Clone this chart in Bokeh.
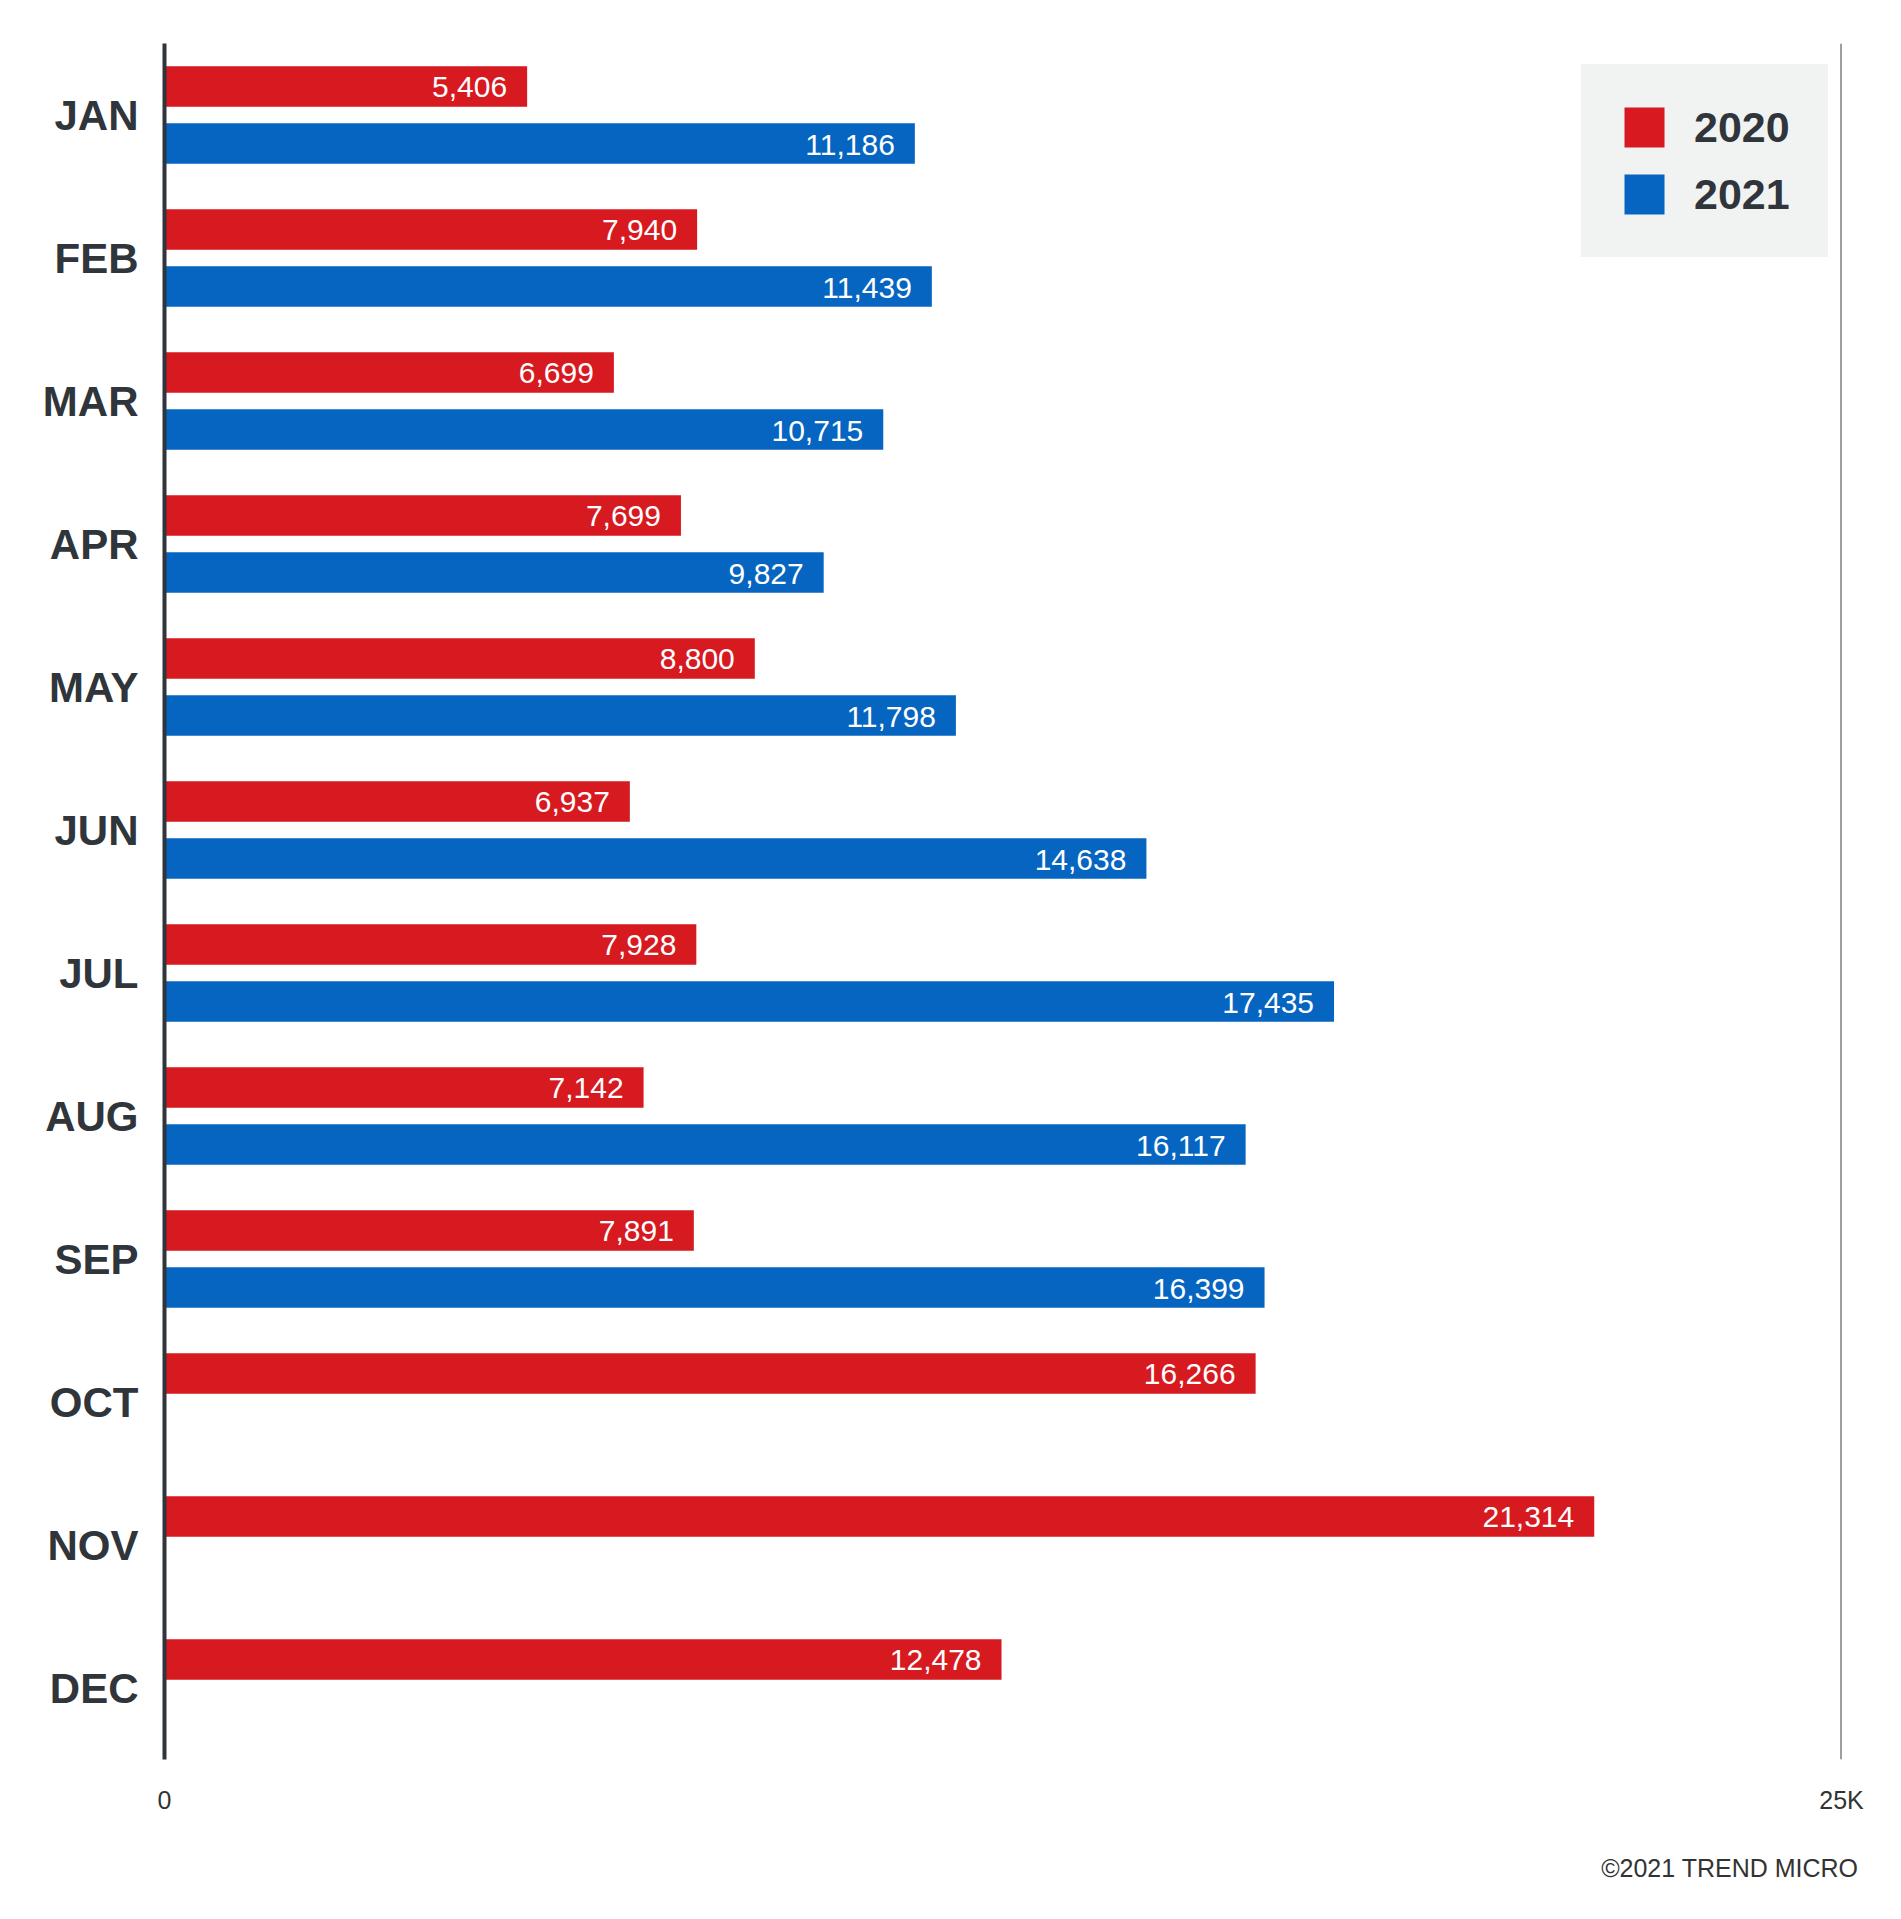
from bokeh.plotting import figure
from bokeh.models import (ColumnDataSource, FactorRange, Range1d, FixedTicker, Span,
                          Legend, LegendItem, Title)
from bokeh.transform import dodge
from bokeh.core.properties import value
from bokeh.embed import file_html
from bokeh.resources import INLINE

# ---- data ----
months = ["JAN", "FEB", "MAR", "APR", "MAY", "JUN", "JUL", "AUG", "SEP", "OCT", "NOV", "DEC"]
values_2020 = [5406, 7940, 6699, 7699, 8800, 6937, 7928, 7142, 7891, 16266, 21314, 12478]
months_2021 = ["JAN", "FEB", "MAR", "APR", "MAY", "JUN", "JUL", "AUG", "SEP"]
values_2021 = [11186, 11439, 10715, 9827, 11798, 14638, 17435, 16117, 16399]
x_ticks = [0, 25000]
x_tick_labels = {0: "0", 25000: "25K"}
series_names = ["2020", "2021"]
credit = "\u00a92021 TREND MICRO"

RED = "#d71920"
BLUE = "#0665c1"
DARK = "#2f353a"
LEG_BG = "#f1f2f2"
FONT = "Liberation Sans"

src20 = ColumnDataSource(dict(month=months, v=values_2020,
                              lbl=[f"{v:,}" for v in values_2020]))
src21 = ColumnDataSource(dict(month=months_2021, v=values_2021,
                              lbl=[f"{v:,}" for v in values_2021]))

p = figure(y_range=FactorRange(factors=list(reversed(months))),
           x_range=Range1d(0, 25000),
           width=1885, height=1919,
           output_backend="svg", toolbar_location=None,
           min_border_left=164, min_border_top=43,
           min_border_right=44, min_border_bottom=160)
p.outline_line_color = None
p.xgrid.grid_line_color = None
p.ygrid.grid_line_color = None
p.background_fill_color = "white"
p.border_fill_color = "white"

OFF = 0.20
BH = 0.283
r20 = p.hbar(y=dodge("month", OFF, range=p.y_range), left=0, right="v", height=BH,
             source=src20, fill_color=RED, line_color=None)
r21 = p.hbar(y=dodge("month", -OFF, range=p.y_range), left=0, right="v", height=BH,
             source=src21, fill_color=BLUE, line_color=None)

for src, off in ((src20, OFF), (src21, -OFF)):
    p.text(x="v", y=dodge("month", off, range=p.y_range), text="lbl", source=src,
           text_align="right", text_baseline="middle", x_offset=-20, y_offset=1,
           text_color="white", text_font=value(FONT), text_font_size="30px")

# y axis
ya = p.yaxis[0]
ya.axis_line_width = 4
ya.axis_line_color = DARK
ya.major_tick_line_color = None
ya.minor_tick_line_color = None
ya.major_tick_out = 0
ya.major_tick_in = 0
ya.major_label_standoff = 26
ya.major_label_text_font = FONT
ya.major_label_text_font_size = "42px"
ya.major_label_text_font_style = "bold"
ya.major_label_text_color = DARK

# x axis
xa = p.xaxis[0]
xa.ticker = FixedTicker(ticks=x_ticks)
xa.major_label_overrides = x_tick_labels
xa.axis_line_color = None
xa.major_tick_line_color = None
xa.minor_tick_line_color = None
xa.major_tick_out = 0
xa.major_tick_in = 0
xa.major_label_standoff = 26
xa.major_label_text_font = FONT
xa.major_label_text_font_size = "25px"
xa.major_label_text_color = "#333333"

# right boundary line
p.add_layout(Span(location=25000, dimension="height", line_color="#3a3f44", line_width=2))

legend = Legend(items=[LegendItem(label=series_names[0], renderers=[r20]),
                       LegendItem(label=series_names[1], renderers=[r21])],
                location=(1417, 1502), margin=0, padding=37, spacing=17,
                glyph_width=50, glyph_height=50, label_standoff=25,
                label_text_font=FONT, label_text_font_size="43px",
                label_text_font_style="bold", label_text_color=DARK,
                background_fill_color=LEG_BG, background_fill_alpha=1.0,
                border_line_color=LEG_BG, border_line_width=1)
p.add_layout(legend)

p.add_layout(Title(text=credit, align="right", offset=-17, standoff=70,
                   text_font=FONT, text_font_size="25px", text_font_style="normal",
                   text_color="#333333"), "below")

open("out.html", "w").write(file_html(p, INLINE))
